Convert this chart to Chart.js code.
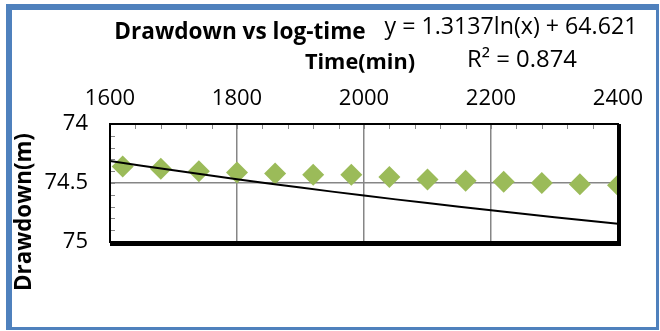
<!DOCTYPE html>
<html>
<head>
<meta charset="utf-8">
<script src="https://cdn.jsdelivr.net/npm/chart.js@4.4.0/dist/chart.umd.min.js"></script>
<style>
  html, body { margin: 0; padding: 0; background: #fff; }
  canvas { display: block; }
</style>
</head>
<body>
<canvas id="drawdownChart" width="660" height="331"></canvas>
<script>
// elapsed time (min) and measured drawdown (m)
const times = [1620, 1680, 1740, 1800, 1860, 1920, 1980, 2040, 2100, 2160, 2220, 2280, 2340, 2400];
const drawdowns = [74.36, 74.38, 74.40, 74.41, 74.42, 74.43, 74.43, 74.45, 74.47, 74.48, 74.49, 74.50, 74.51, 74.52];

// log trendline coefficients as printed on the chart
const trendA = 1.3137;
const trendB = 64.621;
const trendR2 = 0.874;
const trendTimes = [1600, 1700, 1800, 1900, 2000, 2100, 2200, 2300, 2400];

const xTicks = [1600, 1800, 2000, 2200, 2400];
const yTicks = [74, 74.5, 75];

const points = times.map((t, i) => ({ x: t, y: drawdowns[i] }));
const trend = trendTimes.map(t => ({ x: t, y: trendA * Math.log(t) + trendB }));

const FONT = '"Open Sans", Lato, sans-serif';

// draw text centred at (x, y), sized so it spans the given width
function fitText(c, text, weight, width, x, y) {
  c.font = weight + ' 20px ' + FONT;
  const size = 20 * width / c.measureText(text).width;
  c.font = weight + ' ' + size.toFixed(1) + 'px ' + FONT;
  c.fillText(text, x, y);
}

// frame, minor ticks and all the free text
const decor = {
  id: 'decor',
  afterDraw(chart) {
    const c = chart.ctx;
    const a = chart.chartArea;
    const xs = chart.scales.x, ys = chart.scales.y;
    c.save();

    // minor ticks
    c.strokeStyle = '#868686';
    c.lineWidth = 1;
    c.beginPath();
    for (let v = 1600; v <= 2400; v += 40) {
      const px = Math.round(xs.getPixelForValue(v)) + 0.5;
      c.moveTo(px, a.top);
      c.lineTo(px, a.top + 5);
    }
    for (let v = 74; v <= 75.001; v += 0.1) {
      const py = Math.round(ys.getPixelForValue(v)) + 0.5;
      c.moveTo(a.left, py);
      c.lineTo(a.left + 5, py);
    }
    c.stroke();

    // plot frame with heavier bottom/right edge
    c.strokeStyle = '#000';
    c.lineWidth = 2;
    c.strokeRect(a.left, a.top, a.right - a.left, a.bottom - a.top);
    c.fillStyle = '#000';
    c.fillRect(a.left, a.bottom, a.right - a.left + 3, 4);
    c.fillRect(a.right, a.top, 3, a.bottom - a.top + 4);

    // titles
    c.fillStyle = '#000';
    c.textAlign = 'center';
    c.textBaseline = 'middle';
    fitText(c, 'Drawdown vs log-time', 'bold', 251, 240, 33);
    fitText(c, 'Time(min)', 'bold', 110, 360, 63);
    fitText(c, 'y = ' + trendA + 'ln(x) + ' + trendB, 'normal', 253, 511, 27);
    fitText(c, 'R² = ' + trendR2, 'normal', 110, 522, 60);

    c.save();
    c.translate(25, 212);
    c.rotate(-Math.PI / 2);
    fitText(c, 'Drawdown(m)', 'bold', 158, 0, 0);
    c.restore();

    // outer border
    c.fillStyle = '#4F81BD';
    c.fillRect(6, 4, 653, 6);
    c.fillRect(6, 4, 6, 326);
    c.fillRect(656, 4, 3, 326);
    c.fillRect(6, 327, 653, 3);
    c.restore();
  }
};

new Chart(document.getElementById('drawdownChart'), {
  type: 'scatter',
  data: {
    datasets: [
      {
        label: 'Trend',
        data: trend,
        showLine: true,
        borderColor: '#000',
        borderWidth: 2,
        pointRadius: 0,
        tension: 0.4,
        order: 0
      },
      {
        label: 'Drawdown',
        data: points,
        pointStyle: 'rectRot',
        pointRadius: 11,
        pointHoverRadius: 11,
        backgroundColor: '#9BBB59',
        borderColor: '#9BBB59',
        borderWidth: 0,
        order: 1
      }
    ]
  },
  options: {
    responsive: false,
    animation: false,
    layout: { padding: { left: 0, top: 0, right: 42, bottom: 89 } },
    plugins: {
      legend: { display: false },
      tooltip: { enabled: false }
    },
    scales: {
      x: {
        type: 'linear',
        position: 'top',
        min: 1600,
        max: 2400,
        afterFit: s => {
          s.height = 124;
          s.paddingLeft = 0;
          s.paddingRight = 0;
        },
        afterBuildTicks: s => { s.ticks = xTicks.map(v => ({ value: v })); },
        border: { display: false },
        grid: { color: '#868686', lineWidth: 1.5, drawTicks: false },
        ticks: {
          color: '#000', padding: 12,
          font: { family: FONT, size: 22 },
          callback: v => String(v)
        }
      },
      y: {
        type: 'linear',
        reverse: true,
        min: 74,
        max: 75,
        afterFit: s => {
          s.width = 110;
          s.paddingTop = 0;
          s.paddingBottom = 0;
        },
        afterBuildTicks: s => { s.ticks = yTicks.map(v => ({ value: v })); },
        border: { display: false },
        grid: { color: '#868686', lineWidth: 1.5, drawTicks: false },
        ticks: {
          color: '#000', padding: 22,
          font: { family: FONT, size: 22 },
          callback: v => String(v)
        }
      }
    }
  },
  plugins: [decor]
});
</script>
</body>
</html>
